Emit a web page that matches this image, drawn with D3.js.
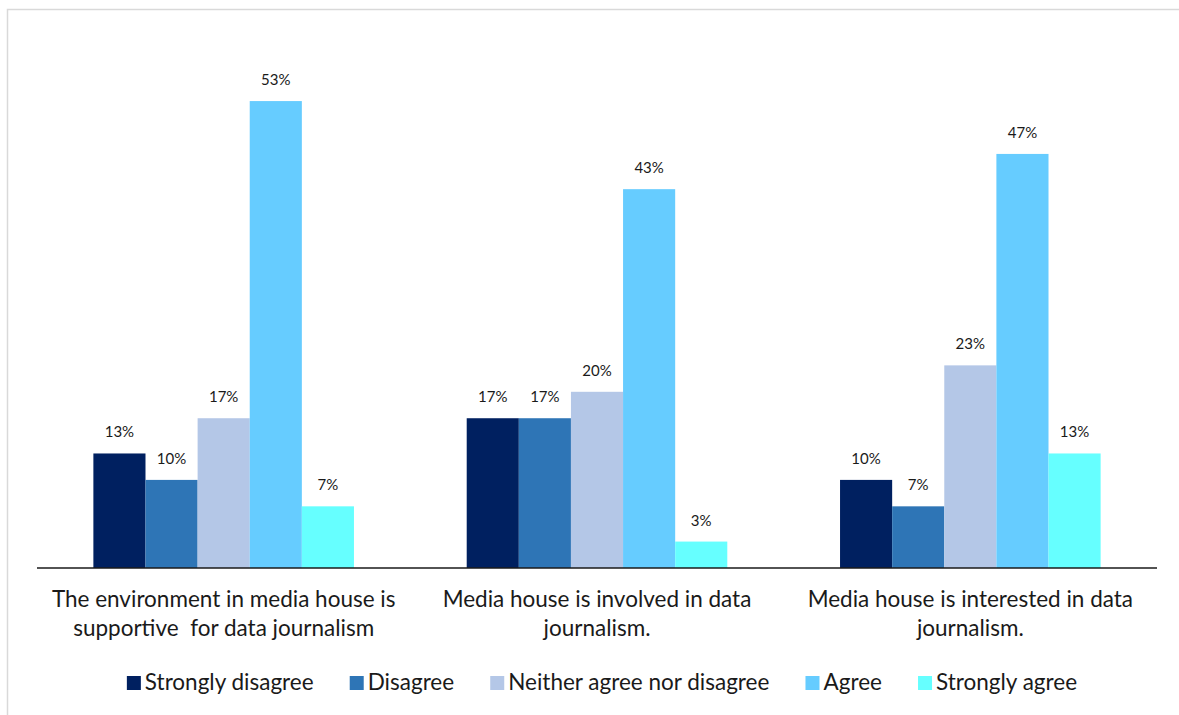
<!DOCTYPE html>
<html>
<head>
<meta charset="utf-8">
<script src="https://cdn.jsdelivr.net/npm/d3@7"></script>
<style>
  html, body { margin: 0; padding: 0; background: #fff; }
  svg { display: block; }
</style>
</head>
<body>
<svg id="chart" width="1179" height="715"></svg>
<script>
// Survey statements (x-axis groups), each label split over two lines
const categories = [
  ["The environment in media house is", "supportive  for data journalism"],
  ["Media house is involved in data", "journalism."],
  ["Media house is interested in data", "journalism."]
];

// Response options (series)
const seriesNames = ["Strongly disagree", "Disagree", "Neither agree nor disagree", "Agree", "Strongly agree"];
const seriesColors = ["#002060", "#2E75B6", "#B4C7E7", "#66CCFF", "#66FFFF"];

// Percentage of respondents, one array per series (in category order)
const stronglyDisagree = [13, 17, 10];
const disagree         = [10, 17, 7];
const neither          = [17, 20, 23];
const agree            = [53, 43, 47];
const stronglyAgree    = [7, 3, 13];

const seriesValues = [stronglyDisagree, disagree, neither, agree, stronglyAgree];

const svg = d3.select("#chart");
const font = "Lato, 'Open Sans', sans-serif";

// Chart-area frame
svg.append("rect")
  .attr("x", 7.5).attr("y", 9.5)
  .attr("width", 1200).attr("height", 720)
  .attr("fill", "none")
  .attr("stroke", "#d9d9d9")
  .attr("stroke-width", 1.5);

const plot = { left: 37, right: 1157, top: 40, bottom: 568 };

const x0 = d3.scaleBand()
  .domain(d3.range(categories.length))
  .range([plot.left, plot.right])
  .paddingInner(0.302)
  .paddingOuter(0.151);

const x1 = d3.scaleBand()
  .domain(d3.range(seriesNames.length))
  .range([0, x0.bandwidth()]);

const y = d3.scaleLinear()
  .domain([0, 60])
  .range([plot.bottom, plot.bottom - 60 * 8.81]);

// Bars
const groups = svg.append("g").selectAll("g")
  .data(categories.map((c, i) => i))
  .join("g")
  .attr("transform", i => `translate(${x0(i)},0)`);

groups.selectAll("rect")
  .data(ci => seriesValues.map((vals, si) => ({ si, v: vals[ci] })))
  .join("rect")
  .attr("x", d => x1(d.si))
  .attr("y", d => y(d.v))
  .attr("width", x1.bandwidth())
  .attr("height", d => y(0) - y(d.v))
  .attr("fill", d => seriesColors[d.si]);

// Value labels
groups.selectAll("text")
  .data(ci => seriesValues.map((vals, si) => ({ si, v: vals[ci] })))
  .join("text")
  .attr("x", d => x1(d.si) + x1.bandwidth() / 2)
  .attr("y", d => y(d.v) - 16)
  .attr("text-anchor", "middle")
  .attr("font-family", font)
  .attr("font-size", 15)
  .attr("fill", "#1a1a1a")
  .text(d => d.v + "%");

// Category axis: baseline plus wrapped labels
const xAxis = d3.axisBottom(x0).tickSize(0).tickFormat("");
const axisG = svg.append("g")
  .attr("transform", `translate(0,${plot.bottom})`)
  .call(xAxis);
axisG.select(".domain")
  .attr("stroke", "#1a1a1a")
  .attr("stroke-width", 1.5)
  .attr("d", `M${plot.left},0H${plot.right}`);

axisG.selectAll(".tick text").remove();
axisG.selectAll(".tick").each(function (i) {
  const t = d3.select(this).append("text")
    .attr("text-anchor", "middle")
    .attr("font-family", font)
    .attr("font-size", 22.5)
    .attr("fill", "#1a1a1a")
    .attr("style", "white-space: pre");
  categories[i].forEach((line, k) => {
    t.append("tspan")
      .attr("x", 0)
      .attr("y", 39 + k * 29)
      .text(line);
  });
});

// Legend, centered under the plot
const legend = svg.append("g");
const items = legend.selectAll("g")
  .data(seriesNames)
  .join("g");
items.append("rect")
  .attr("width", 14).attr("height", 14)
  .attr("y", -14)
  .attr("fill", (d, i) => seriesColors[i]);
items.append("text")
  .attr("x", 18)
  .attr("font-family", font)
  .attr("font-size", 22.5)
  .attr("fill", "#1a1a1a")
  .text(d => d);

let cursor = 0;
items.each(function () {
  const w = this.getBBox().width;
  d3.select(this).attr("transform", `translate(${cursor},0)`);
  cursor += w + 36;
});
const total = cursor - 36;
legend.attr("transform", `translate(${602 - total / 2},690)`);
</script>
</body>
</html>
